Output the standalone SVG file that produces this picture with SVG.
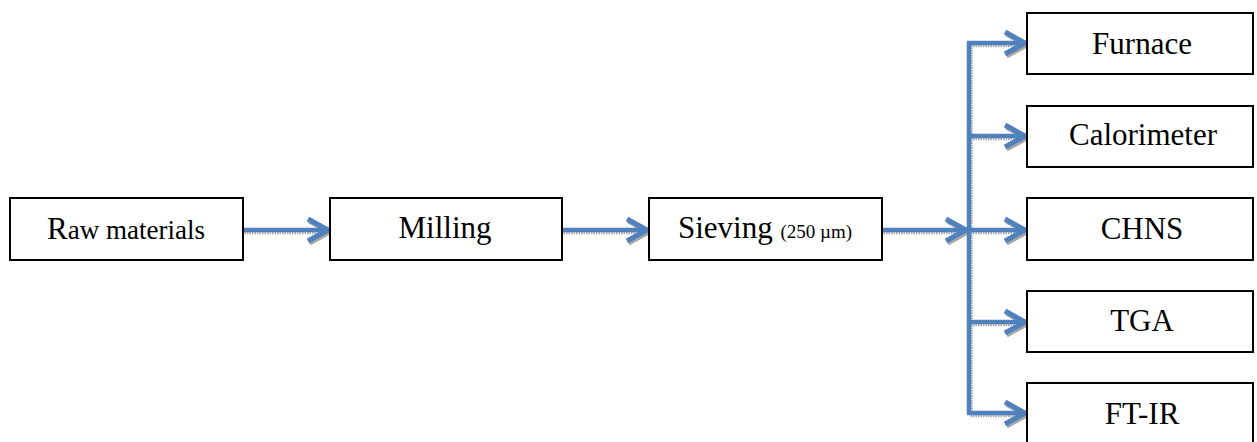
<svg xmlns="http://www.w3.org/2000/svg" width="1257" height="442" viewBox="0 0 1257 442">
<style>
.box{fill:#fff;stroke:#000;stroke-width:2}
.t{font-family:"Liberation Serif","Times New Roman",serif;font-size:31px;fill:#000;text-anchor:middle}
.c{fill:none;stroke:#4F81BD;stroke-width:4.5}
.s{fill:none;stroke:#A6A6A6;stroke-width:4.5;stroke-dasharray:1.5 1}
</style>
<defs>
<marker id="ah" markerUnits="userSpaceOnUse" viewBox="-26 -16 30 32" refX="0" refY="0" markerWidth="30" markerHeight="32" orient="auto" overflow="visible">
<path d="M-21,-11 L-1,0 L-21,11" fill="none" stroke="#4F81BD" stroke-width="5"/>
</marker>
<marker id="ahs" markerUnits="userSpaceOnUse" viewBox="-26 -16 30 32" refX="0" refY="0" markerWidth="30" markerHeight="32" orient="auto" overflow="visible">
<path d="M-21,-11 L-1,0 L-21,11" fill="none" stroke="#A6A6A6" stroke-width="5"/>
</marker>
</defs>
<g id="connectors">
<g transform="translate(1.5,2)">
<path class="s" d="M243,230 H329" marker-end="url(#ahs)"/>
<path class="s" d="M562,230 H648" marker-end="url(#ahs)"/>
<path class="s" d="M882,230 H967" marker-end="url(#ahs)"/>
<path class="s" d="M969,43 V413"/>
<path class="s" d="M969,43 H1026" marker-end="url(#ahs)"/>
<path class="s" d="M969,136 H1026" marker-end="url(#ahs)"/>
<path class="s" d="M969,230 H1026" marker-end="url(#ahs)"/>
<path class="s" d="M969,322 H1026" marker-end="url(#ahs)"/>
<path class="s" d="M969,413 H1026" marker-end="url(#ahs)"/>
</g>
<path class="c" d="M243,230 H329" marker-end="url(#ah)"/>
<path class="c" d="M562,230 H648" marker-end="url(#ah)"/>
<path class="c" d="M882,230 H967" marker-end="url(#ah)"/>
<path class="c" d="M969,41 V415"/>
<path class="c" d="M967,43 H1026" marker-end="url(#ah)"/>
<path class="c" d="M969,136 H1026" marker-end="url(#ah)"/>
<path class="c" d="M969,230 H1026" marker-end="url(#ah)"/>
<path class="c" d="M969,322 H1026" marker-end="url(#ah)"/>
<path class="c" d="M967,413 H1026" marker-end="url(#ah)"/>
</g>
<g id="raw">
<rect class="box" x="10" y="198" width="233" height="62"/>
<text class="t" x="126" y="239"><tspan font-size="31">R</tspan><tspan font-size="27">aw materials</tspan></text>
</g>
<g id="milling">
<rect class="box" x="330" y="198" width="232" height="62"/>
<text class="t" x="445" y="238">Milling</text>
</g>
<g id="sieving">
<rect class="box" x="649" y="198" width="233" height="62"/>
<text class="t" x="765" y="238">Sieving <tspan font-size="19">(250 µm)</tspan></text>
</g>
<g id="furnace">
<rect class="box" x="1027" y="13" width="226" height="61"/>
<text class="t" x="1142" y="54">Furnace</text>
</g>
<g id="calorimeter">
<rect class="box" x="1027" y="106" width="226" height="61"/>
<text class="t" x="1143" y="145">Calorimeter</text>
</g>
<g id="chns">
<rect class="box" x="1027" y="198" width="226" height="62"/>
<text class="t" x="1142" y="239">CHNS</text>
</g>
<g id="tga">
<rect class="box" x="1027" y="291" width="226" height="61"/>
<text class="t" x="1142" y="331">TGA</text>
</g>
<g id="ftir">
<rect class="box" x="1027" y="383" width="226" height="62"/>
<text class="t" x="1142" y="424">FT-IR</text>
</g>
</svg>
